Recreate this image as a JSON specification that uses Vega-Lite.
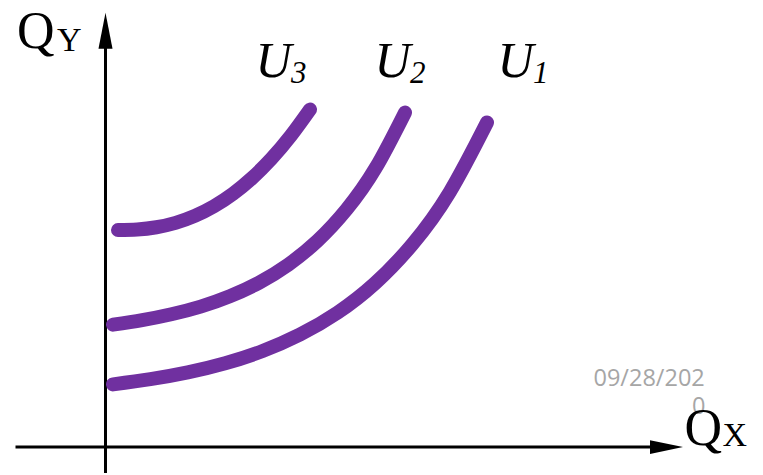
{
  "$schema": "https://vega.github.io/schema/vega-lite/v6.json",
  "width": 763,
  "height": 475,
  "autosize": {"type": "fit", "contains": "padding"},
  "padding": 0,
  "background": "white",
  "view": {"stroke": null},
  "datasets": {
    "axes": [
      {"x": 0, "y": -2.6, "x2": 0, "y2": 40.5},
      {"x": -9, "y": 0, "x2": 54.5, "y2": 0}
    ],
    "arrowY": [{"x": 0, "y": 41.8}],
    "arrowX": [{"x": 56.1, "y": 0}],
    "curves": [
      {"curve": "U3", "x": 1.25, "y": 21.8},
      {"curve": "U3", "x": 3.17, "y": 21.86},
      {"curve": "U3", "x": 5.09, "y": 22.08},
      {"curve": "U3", "x": 7.01, "y": 22.52},
      {"curve": "U3", "x": 8.93, "y": 23.22},
      {"curve": "U3", "x": 10.85, "y": 24.19},
      {"curve": "U3", "x": 12.77, "y": 25.46},
      {"curve": "U3", "x": 14.69, "y": 27.05},
      {"curve": "U3", "x": 16.61, "y": 28.98},
      {"curve": "U3", "x": 18.53, "y": 31.26},
      {"curve": "U3", "x": 20.45, "y": 33.9},
      {"curve": "U2", "x": 0.75, "y": 12.3},
      {"curve": "U2", "x": 3.67, "y": 12.75},
      {"curve": "U2", "x": 6.59, "y": 13.34},
      {"curve": "U2", "x": 9.51, "y": 14.11},
      {"curve": "U2", "x": 12.43, "y": 15.15},
      {"curve": "U2", "x": 15.35, "y": 16.51},
      {"curve": "U2", "x": 18.27, "y": 18.32},
      {"curve": "U2", "x": 21.19, "y": 20.71},
      {"curve": "U2", "x": 24.11, "y": 23.87},
      {"curve": "U2", "x": 27.03, "y": 28.06},
      {"curve": "U2", "x": 29.95, "y": 33.6},
      {"curve": "U1", "x": 0.75, "y": 6.3},
      {"curve": "U1", "x": 4.49, "y": 6.82},
      {"curve": "U1", "x": 8.23, "y": 7.5},
      {"curve": "U1", "x": 11.97, "y": 8.42},
      {"curve": "U1", "x": 15.71, "y": 9.65},
      {"curve": "U1", "x": 19.45, "y": 11.3},
      {"curve": "U1", "x": 23.19, "y": 13.49},
      {"curve": "U1", "x": 26.93, "y": 16.43},
      {"curve": "U1", "x": 30.67, "y": 20.35},
      {"curve": "U1", "x": 34.41, "y": 25.59},
      {"curve": "U1", "x": 38.15, "y": 32.6}
    ],
    "date": [
      {"label": "09/28/202", "x": 48.8, "y": 6.1},
      {"label": "0", "x": 58.65, "y": 3.3}
    ],
    "bigQ": [
      {"label": "Q", "x": -8.85, "y": 40.1},
      {"label": "Q", "x": 57.9, "y": 0.2}
    ],
    "axisSub": [
      {"label": "Y", "x": -4.85, "y": 39.8},
      {"label": "X", "x": 61.7, "y": 0.1}
    ],
    "uMain": [
      {"label": "U", "x": 15.0, "y": 37.2},
      {"label": "U", "x": 26.9, "y": 37.2},
      {"label": "U", "x": 39.2, "y": 37.2}
    ],
    "uSub": [
      {"label": "3", "x": 18.55, "y": 36.6},
      {"label": "2", "x": 30.45, "y": 36.6},
      {"label": "1", "x": 42.75, "y": 36.6}
    ]
  },
  "encoding": {
    "x": {"field": "x", "type": "quantitative", "axis": null, "scale": {"domain": [-10.55, 65.75], "nice": false, "zero": false}},
    "y": {"field": "y", "type": "quantitative", "axis": null, "scale": {"domain": [-2.6, 44.9], "nice": false, "zero": false}}
  },
  "layer": [
    {
      "data": {"name": "date"},
      "mark": {"type": "text", "font": "Open Sans", "fontSize": 23.5, "color": "#a6a6a6", "align": "left", "baseline": "alphabetic"},
      "encoding": {"text": {"field": "label"}}
    },
    {
      "data": {"name": "axes"},
      "mark": {"type": "rule", "color": "black", "strokeWidth": 3},
      "encoding": {"x2": {"field": "x2"}, "y2": {"field": "y2"}}
    },
    {
      "data": {"name": "arrowY"},
      "mark": {"type": "point", "shape": "M-0.39,1L0,-1L0.39,1Z", "size": 1296, "filled": true, "color": "black", "opacity": 1, "strokeWidth": 0}
    },
    {
      "data": {"name": "arrowX"},
      "mark": {"type": "point", "shape": "M-1,-0.42L1,0L-1,0.42Z", "size": 1089, "filled": true, "color": "black", "opacity": 1, "strokeWidth": 0}
    },
    {
      "data": {"name": "curves"},
      "mark": {"type": "line", "interpolate": "natural", "color": "#7030a0", "strokeWidth": 14, "strokeCap": "round", "strokeJoin": "round"},
      "encoding": {"detail": {"field": "curve"}}
    },
    {
      "data": {"name": "bigQ"},
      "mark": {"type": "text", "font": "Liberation Serif", "fontSize": 52, "color": "black", "align": "left", "baseline": "alphabetic"},
      "encoding": {"text": {"field": "label"}}
    },
    {
      "data": {"name": "axisSub"},
      "mark": {"type": "text", "font": "Liberation Serif", "fontSize": 34, "color": "black", "align": "left", "baseline": "alphabetic"},
      "encoding": {"text": {"field": "label"}}
    },
    {
      "data": {"name": "uMain"},
      "mark": {"type": "text", "font": "Liberation Serif", "fontStyle": "italic", "fontSize": 50, "color": "black", "align": "left", "baseline": "alphabetic"},
      "encoding": {"text": {"field": "label"}}
    },
    {
      "data": {"name": "uSub"},
      "mark": {"type": "text", "font": "Liberation Serif", "fontStyle": "italic", "fontSize": 31, "color": "black", "align": "left", "baseline": "alphabetic"},
      "encoding": {"text": {"field": "label"}}
    }
  ]
}
